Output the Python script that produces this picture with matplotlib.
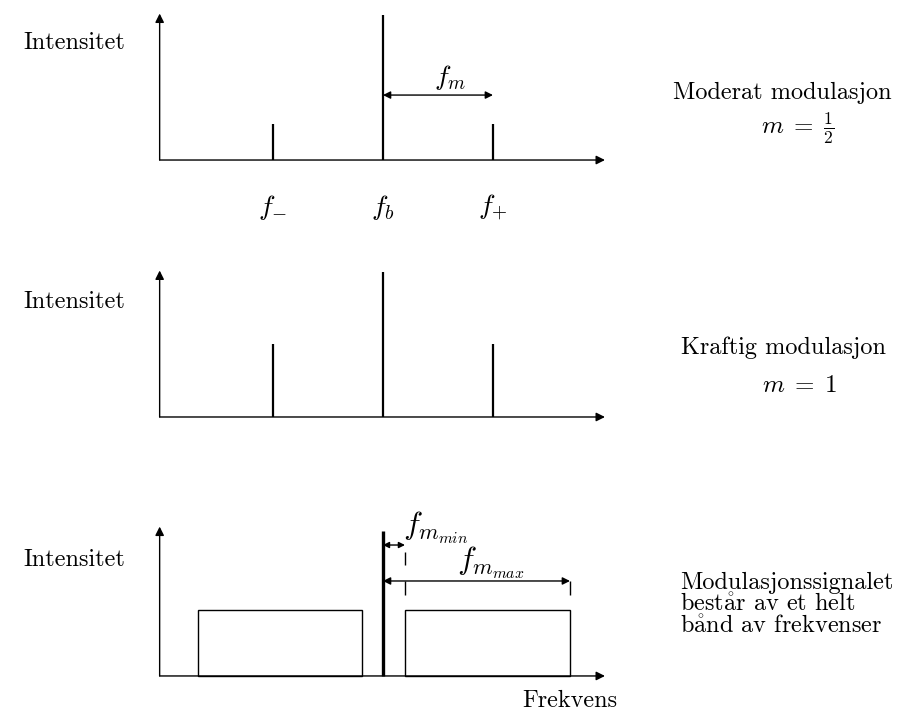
import matplotlib
matplotlib.use("Agg")
import matplotlib.pyplot as plt
from matplotlib.patches import Rectangle

plt.rcParams['font.family'] = ['cmr10', 'DejaVu Serif']
plt.rcParams['mathtext.fontset'] = 'cm'
plt.rcParams['axes.formatter.use_mathtext'] = True

# spectrum data (frequency in units of f_m, relative to f_b)
line_freqs = [-1.0, 0.0, 1.0]
moderate_heights = [0.25, 1.0, 0.25]
strong_heights = [0.5, 1.0, 0.5]
band_lo = [-1.68, 0.2]
band_hi = [-0.19, 1.7]
band_height = 0.455
carrier_height = 1.0
f_min = 0.2
f_max = 1.7
line_labels = [r'$f_{-}$', r'$f_b$', r'$f_{+}$']

FS = 17.5
MFS = 20
aa = r'$\mathring{\mathrm{a}}$'

fig = plt.figure(figsize=(9.15, 7.15), dpi=100)
bottoms = [0.7622, 0.4028, 0.0406]
axes = []
for b in bottoms:
    ax = fig.add_axes([0.1639, b, 0.5082, 0.2308])
    ax.set_xlim(-2.118, 2.109)
    ax.set_ylim(-0.069, 1.069)
    ax.axis('off')
    axes.append(ax)

arrow = dict(arrowstyle='-|>', lw=1.0, color='black', mutation_scale=13, shrinkA=0, shrinkB=0)


def draw_axes(ax, ytop):
    ax.annotate('', xy=(2.018, 0), xytext=(-2.03, 0), arrowprops=arrow)
    ax.annotate('', xy=(-2.03, ytop), xytext=(-2.03, 0), arrowprops=arrow)


# panel 1: moderate modulation
ax1 = axes[0]
draw_axes(ax1, 1.01)
ax1.vlines(line_freqs, 0, moderate_heights, color='black', lw=1.6)
for f, lab in zip(line_freqs, line_labels):
    ax1.text(f, -0.33, lab, fontsize=MFS, ha='center', va='center')
ax1.annotate('', xy=(line_freqs[2], 0.448), xytext=(line_freqs[1], 0.448),
             arrowprops=dict(arrowstyle='<|-|>', lw=1.0, color='black', mutation_scale=11,
                             shrinkA=0, shrinkB=0))
ax1.text(0.61, 0.57, r'$f_m$', fontsize=MFS, ha='center', va='center')

# panel 2: strong modulation
ax2 = axes[1]
draw_axes(ax2, 1.01)
ax2.vlines(line_freqs, 0, strong_heights, color='black', lw=1.6)

# panel 3: band of modulation frequencies
ax3 = axes[2]
draw_axes(ax3, 1.03)
for lo, hi in zip(band_lo, band_hi):
    ax3.add_patch(Rectangle((lo, 0), hi - lo, band_height, fill=False, lw=1.0, ec='black'))
ax3.vlines(0.0, 0, carrier_height, color='black', lw=2.4)
ax3.annotate('', xy=(f_min, 0.903), xytext=(0.0, 0.903),
             arrowprops=dict(arrowstyle='<|-|>', lw=1.0, color='black', mutation_scale=9,
                             shrinkA=0, shrinkB=0))
ax3.vlines(f_min, 0.766, 0.855, color='black', lw=1.0)
ax3.annotate('', xy=(f_max, 0.655), xytext=(0.0, 0.655),
             arrowprops=dict(arrowstyle='<|-|>', lw=1.0, color='black', mutation_scale=11,
                             shrinkA=0, shrinkB=0))
ax3.vlines([f_min, f_max], 0.559, 0.655, color='black', lw=1.0)
ax3.text(0.18, 0.972, r'$f_{m_{min}}$', fontsize=23, ha='left', va='baseline')
ax3.text(0.98, 0.731, r'$f_{m_{max}}$', fontsize=23, ha='center', va='baseline')
ax3.text(1.7, -0.17, 'Frekvens', fontsize=FS, ha='center', va='center')

# left labels
for y in [0.94, 0.578, 0.217]:
    fig.text(0.025, y, 'Intensitet', fontsize=FS, ha='left', va='center')

# right annotations
fig.text(0.855, 0.870, 'Moderat modulasjon', fontsize=FS, ha='center', va='center')
fig.text(0.872, 0.821, r'$m\;=\;\frac{1}{2}$', fontsize=18, ha='center', va='center')
fig.text(0.856, 0.513, 'Kraftig modulasjon', fontsize=FS, ha='center', va='center')
fig.text(0.874, 0.460, r'$m\;=\;1$', fontsize=18, ha='center', va='center')
fig.text(0.743, 0.185, 'Modulasjonssignalet', fontsize=FS, ha='left', va='center')
fig.text(0.743, 0.154, 'best' + aa + 'r av et helt', fontsize=FS, ha='left', va='center')
fig.text(0.743, 0.123, 'b' + aa + 'nd av frekvenser', fontsize=FS, ha='left', va='center')

fig.savefig('out.png', dpi=100, facecolor='white')
